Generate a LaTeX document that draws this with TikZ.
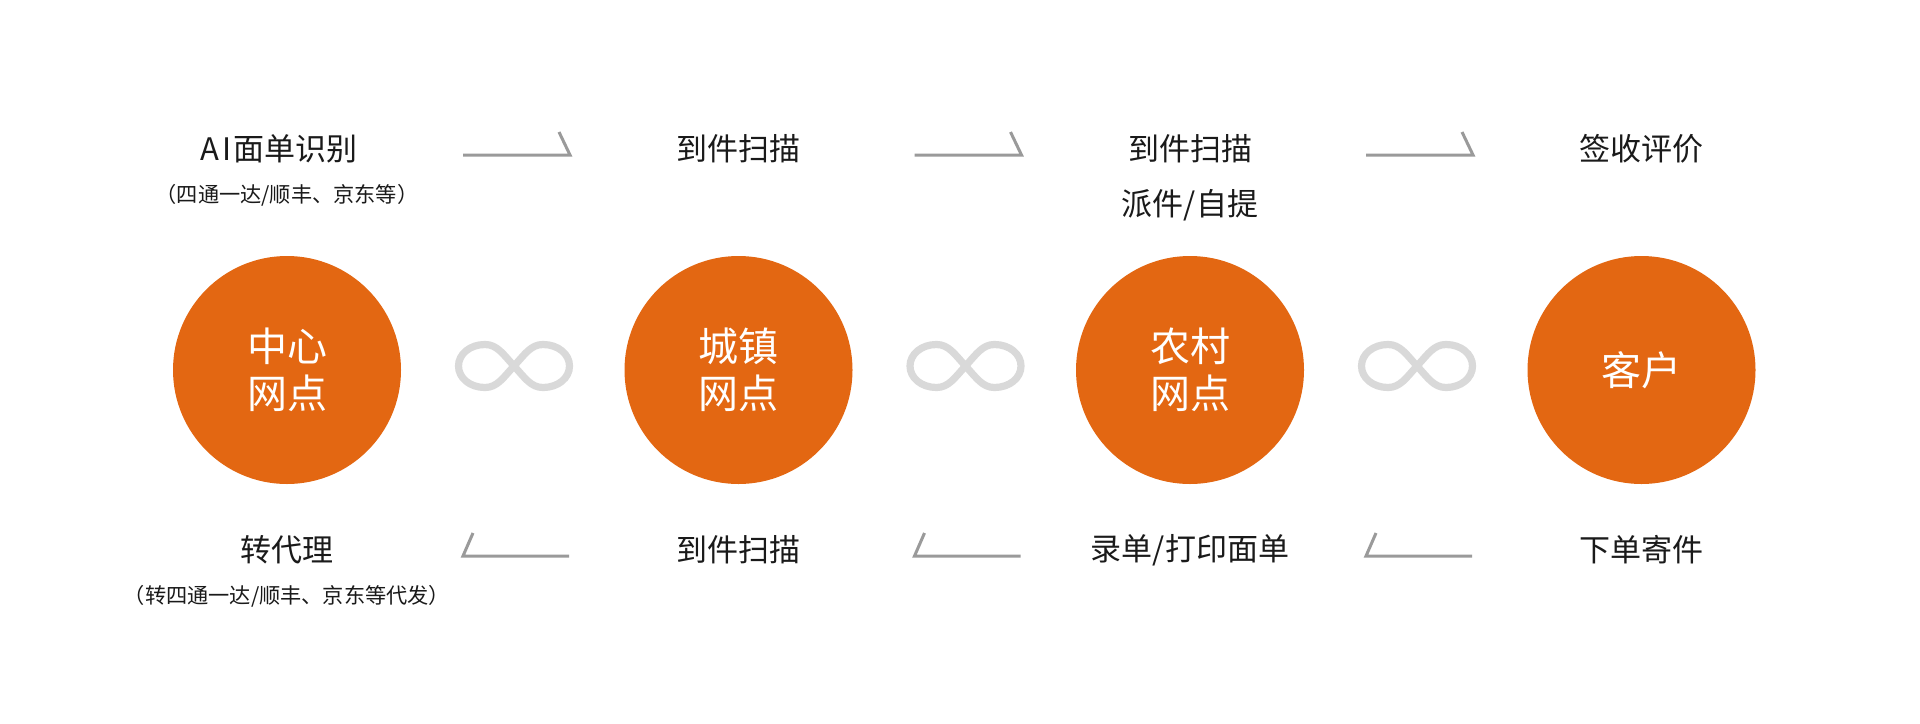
\documentclass[tikz,border=0pt]{standalone}
\usepackage{fontspec}
\setmainfont{Noto Sans CJK SC}
\definecolor{orng}{HTML}{E36712}
\definecolor{infc}{HTML}{D9D9D9}
\definecolor{arrc}{HTML}{9A9A9A}
\definecolor{txt}{HTML}{1A1A1A}
\begin{document}
\begin{tikzpicture}[x=0.5pt,y=-0.5pt,
  hub/.style={circle,fill=orng,draw=none,minimum size=114pt,inner sep=0pt,
    text=white,align=center,font=\fontsize{20}{23.5}\selectfont},
  lbl/.style={text=txt,font=\fontsize{15.5}{18}\selectfont,inner sep=0pt},
  sub/.style={text=txt,font=\fontsize{10.6}{13}\selectfont,inner sep=0pt},
  arr/.style={draw=arrc,line width=1.5pt,line join=miter},
  inf/.style={draw=infc,line width=3.6pt},
  infin/.pic={\draw[inf] (0,0) .. controls (11,-12) and (17,-21.5) .. (29,-21.5)
     .. controls (44,-21.5) and (55.5,-12) .. (55.5,0)
     .. controls (55.5,12) and (44,21.5) .. (29,21.5)
     .. controls (17,21.5) and (11,12) .. (0,0)
     .. controls (-11,-12) and (-17,-21.5) .. (-29,-21.5)
     .. controls (-44,-21.5) and (-55.5,-12) .. (-55.5,0)
     .. controls (-55.5,12) and (-44,21.5) .. (-29,21.5)
     .. controls (-17,21.5) and (-11,12) .. (0,0) -- cycle;}
]
\useasboundingbox (0,0) rectangle (1920,723);
\fill[white] (0,0) rectangle (1920,723);

% hubs
\node[hub] (c1) at (287,370) {中心\\网点};
\node[hub] (c2) at (738.5,370) {城镇\\网点};
\node[hub] (c3) at (1190,370) {农村\\网点};
\node[hub] (c4) at (1641.5,370) {客户};

% infinity signs
\pic at (514,366) {infin};
\pic at (965.5,366) {infin};
\pic at (1417,366) {infin};

% top labels
\node[lbl] (t1) at (279,149) {A\kern1.5ptI\kern1pt 面单识别};
\node[sub] (s1) at (287,195) {（四通一达/顺丰、京东等）};
\node[lbl] (t2) at (738.5,149) {到件扫描};
\node[lbl] (t3) at (1190,149) {到件扫描};
\node[lbl] (t3b) at (1190,205) {派件/自提};
\node[lbl] (t4) at (1641.5,149) {签收评价};

% bottom labels
\node[lbl] (b1) at (287,550) {转代理};
\node[sub] (bs1) at (287,596) {（转四通一达/顺丰、京东等代发）};
\node[lbl] (b2) at (738.5,550) {到件扫描};
\node[lbl] (b3) at (1190,550) {录单/打印面单};
\node[lbl] (b4) at (1641.5,550) {下单寄件};

% arrows
\foreach \i/\dx in {1/0,2/451.5,3/903}{
  \coordinate (ta\i s) at (463+\dx,155);
  \coordinate (ta\i e) at (570+\dx,155);
  \coordinate (ta\i h) at (559+\dx,132);
  \draw[arr] (ta\i s) -- (ta\i e) -- (ta\i h);
  \coordinate (ba\i s) at (569+\dx,556);
  \coordinate (ba\i e) at (463+\dx,556);
  \coordinate (ba\i h) at (473+\dx,533);
  \draw[arr] (ba\i s) -- (ba\i e) -- (ba\i h);
}
\end{tikzpicture}
\end{document}
